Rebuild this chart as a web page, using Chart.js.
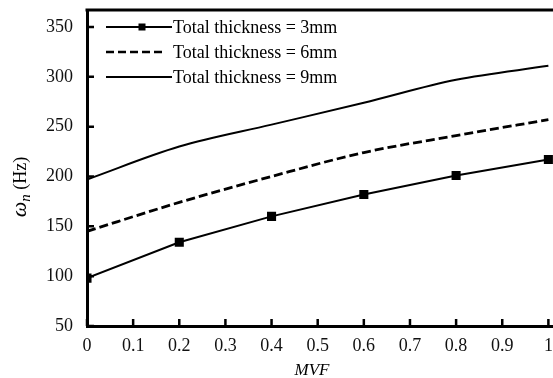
<!DOCTYPE html>
<html>
<head>
<meta charset="utf-8">
<script src="https://cdn.jsdelivr.net/npm/chart.js@4.4.0/dist/chart.umd.min.js"></script>
<style>
  html, body { margin: 0; padding: 0; background: #fff; }
</style>
</head>
<body>
<canvas id="grafic" width="553" height="378"></canvas>
<script>
// valori
const mvf = [0, 0.2, 0.4, 0.6, 0.8, 1.0];
const thick3 = [98, 134, 160, 182, 201, 217];
const thick6 = [145, 174, 200, 224, 241, 257];
const thick9 = [197, 230, 252, 274, 297, 311];
const seriesNames = ['Total thickness = 3mm', 'Total thickness = 6mm', 'Total thickness = 9mm'];
const yTicks = [50, 100, 150, 200, 250, 300, 350];
const xTicks = [0, 0.1, 0.2, 0.3, 0.4, 0.5, 0.6, 0.7, 0.8, 0.9, 1];

const serif = "'Liberation Serif', 'Times New Roman', serif";

function points(ys) {
    return mvf.map((x, i) => ({ x: x, y: ys[i] }));
}

// rama de sus, tick-uri spre interior, legenda si titlurile axelor
const decor = {
    id: 'decor',
    afterDraw(chart) {
        const { ctx, chartArea: a, scales: { x, y } } = chart;
        ctx.save();
        ctx.strokeStyle = '#000';
        ctx.fillStyle = '#000';

        ctx.lineWidth = 3;
        ctx.beginPath();
        ctx.moveTo(a.left - 1.5, a.top);
        ctx.lineTo(a.right, a.top);
        ctx.stroke();

        ctx.lineWidth = 2.5;
        ctx.beginPath();
        yTicks.forEach(v => {
            const p = y.getPixelForValue(v);
            ctx.moveTo(a.left, p);
            ctx.lineTo(a.left + 7, p);
        });
        xTicks.forEach(v => {
            const p = x.getPixelForValue(v);
            ctx.moveTo(p, a.bottom);
            ctx.lineTo(p, a.bottom - 7);
        });
        ctx.stroke();

        // legenda
        const rows = [27, 52, 77];
        ctx.font = '18px ' + serif;
        ctx.textBaseline = 'middle';
        ctx.textAlign = 'left';
        rows.forEach((ry, i) => {
            ctx.lineWidth = i === 1 ? 2.5 : 2;
            ctx.setLineDash(i === 1 ? [8, 4] : []);
            ctx.beginPath();
            ctx.moveTo(106, ry);
            ctx.lineTo(i === 1 ? 166 : 172, ry);
            ctx.stroke();
            ctx.setLineDash([]);
            if (i === 0) ctx.fillRect(138.5, ry - 3.5, 7, 7);
            ctx.fillText(seriesNames[i], 173, ry + 1);
        });

        // titlu axa Y
        ctx.save();
        ctx.translate(20, 187);
        ctx.rotate(-Math.PI / 2);
        const wFont = 'italic 22px ' + serif;
        const nFont = 'italic 15px ' + serif;
        const hFont = '18px ' + serif;
        ctx.font = wFont; const w1 = ctx.measureText('ω').width;
        ctx.font = nFont; const w2 = ctx.measureText('n').width;
        ctx.font = hFont; const w3 = ctx.measureText(' (Hz)').width;
        let cx = -(w1 + w2 + w3) / 2;
        ctx.textBaseline = 'alphabetic';
        ctx.font = wFont; ctx.fillText('ω', cx, 6); cx += w1;
        ctx.font = nFont; ctx.fillText('n', cx, 10); cx += w2;
        ctx.font = hFont; ctx.fillText(' (Hz)', cx, 6);
        ctx.restore();

        // titlu axa X
        ctx.font = 'italic 17px ' + serif;
        ctx.textAlign = 'center';
        ctx.textBaseline = 'middle';
        ctx.fillText('MVF', 312, 371);

        ctx.restore();
    }
};

const ctx = document.getElementById('grafic').getContext('2d');
const grafic = new Chart(ctx, {
    type: 'line',
    data: {
        datasets: [{
            label: seriesNames[0],
            data: points(thick3),
            borderColor: '#000',
            backgroundColor: '#000',
            borderWidth: 2,
            pointStyle: 'rect',
            pointRadius: 5,
            tension: 0
        }, {
            label: seriesNames[1],
            data: points(thick6),
            borderColor: '#000',
            borderWidth: 2.8,
            borderDash: [9, 4],
            pointRadius: 0,
            cubicInterpolationMode: 'monotone'
        }, {
            label: seriesNames[2],
            data: points(thick9),
            borderColor: '#000',
            borderWidth: 2,
            pointRadius: 0,
            cubicInterpolationMode: 'monotone'
        }]
    },
    options: {
        responsive: false,
        animation: false,
        devicePixelRatio: 1,
        layout: { autoPadding: false, padding: { top: 10, left: 0, right: 0, bottom: 0 } },
        plugins: {
            legend: { display: false },
            tooltip: { enabled: false }
        },
        scales: {
            x: {
                type: 'linear',
                min: 0,
                max: 1.01,
                grid: { display: false, drawTicks: false },
                border: { display: true, color: '#000', width: 3 },
                ticks: {
                    padding: 9,
                    color: '#111',
                    font: { family: serif, size: 18 },
                    callback: v => String(+v.toFixed(1))
                },
                afterBuildTicks: s => { s.ticks = xTicks.map(v => ({ value: v })); },
                afterFit: s => { s.height = 52; s.paddingLeft = 0; s.paddingRight = 0; }
            },
            y: {
                min: 50,
                max: 367,
                grid: { display: false, drawTicks: false },
                border: { display: true, color: '#000', width: 3 },
                ticks: {
                    padding: 14,
                    color: '#111',
                    font: { family: serif, size: 18 }
                },
                afterBuildTicks: s => { s.ticks = yTicks.map(v => ({ value: v })); },
                afterFit: s => { s.width = 87; s.paddingTop = 0; s.paddingBottom = 0; }
            }
        }
    },
    plugins: [decor]
});
</script>
</body>
</html>
